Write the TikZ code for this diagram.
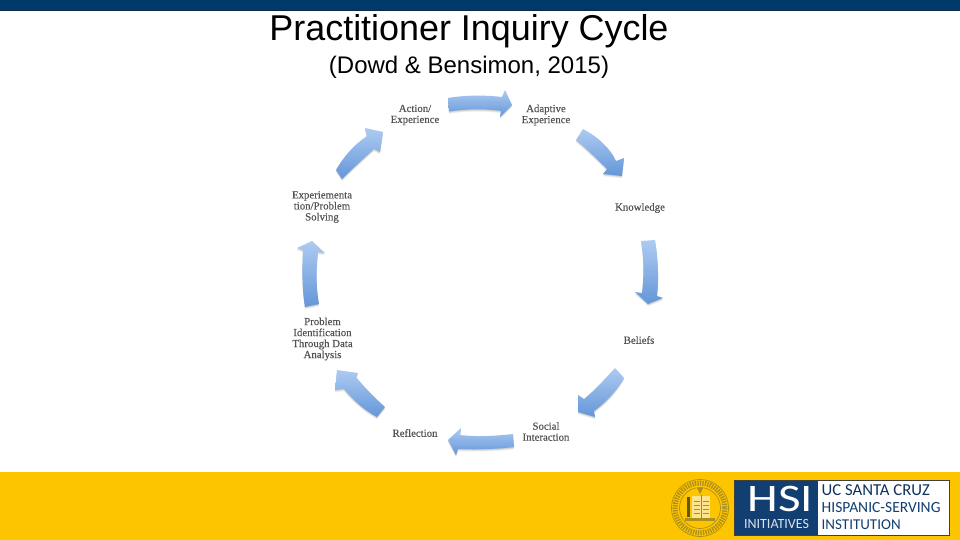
\documentclass[tikz,border=0pt]{standalone}
\usepackage{fontspec}
\setmainfont{Liberation Sans}
\newfontfamily\lblfont[FakeBold=0.25]{Liberation Serif}
\newfontfamily\logofont{Carlito}
\definecolor{navy}{HTML}{003A6B}
\definecolor{navydark}{HTML}{0B2C45}
\definecolor{gold}{HTML}{FDC400}
\definecolor{seal}{HTML}{8A7A2A}
\definecolor{logonavy}{HTML}{123F72}
\definecolor{arrowlight}{HTML}{ADCBF2}
\definecolor{arrowdark}{HTML}{6496D8}
\newcommand{\blockarrow}[1]{%
  \foreach \dd in {0.6,1.4,2.2}{\fill[black,opacity=0.07,yshift=-\dd pt] #1;}
  \shade[top color=arrowlight,bottom color=arrowdark] #1;}
\tikzset{
  lbl/.style={font=\lblfont\fontsize{10.8}{11}\selectfont,text=black!68,align=center,inner sep=0pt},
  logotxt/.style={font=\logofont\fontsize{#1}{#1}\selectfont,inner sep=0pt,anchor=west},
}
\begin{document}
\begin{tikzpicture}[x=1pt,y=-1pt]
\useasboundingbox (0,0) rectangle (960,540);
\fill[white] (0,0) rectangle (960,540);
\fill[navy] (0,0) rectangle (960,10);
\fill[navydark] (0,10) rectangle (960,11);
\fill[gold] (0,472) rectangle (960,540);
% titles
\node[font=\fontsize{35.9}{38}\selectfont,inner sep=0pt] (title) at (469,31) {Practitioner Inquiry Cycle};
\node[font=\fontsize{24}{26}\selectfont,inner sep=0pt] (sub) at (469,67) {(Dowd \& Bensimon, 2015)};
% labels
\node[lbl] (action) at (415,115) {Action/\\Experience};
\node[lbl] (adaptive) at (546,115) {Adaptive\\Experience};
\node[lbl] (know) at (640,208) {Knowledge};
\node[lbl] (beliefs) at (639,340) {Beliefs};
\node[lbl] (social) at (546,431.5) {Social\\Interaction};
\node[lbl] (reflect) at (415,433) {Reflection};
\node[lbl] (prob) at (322.5,339) {Problem\\Identification\\Through Data\\Analysis};
\node[lbl] (exper) at (322,207) {Experiementa\\tion/Problem\\Solving};
% block arrows
\blockarrow{(448,98) .. controls (465,95) and (485,95) .. (502,97) -- (505,90) -- (512,105) -- (500,117) -- (501,111) .. controls (485,108.5) and (465,109) .. (449,111.5) -- cycle}
\blockarrow{(583,129) .. controls (598,137) and (610,148) .. (616,161) -- (624,158) -- (622,176) -- (603,174) -- (607,169) .. controls (598,160) and (588,150) .. (576,140) -- cycle}
\blockarrow{(641,241) -- (655,240) .. controls (658,258) and (659,278) .. (657,296) -- (663,298) -- (648,304) -- (635,292) -- (642,293) .. controls (644,276) and (644,258) .. (641,241) -- cycle}
\blockarrow{(615,368) -- (624,378) .. controls (615,393) and (605,403) .. (594,411) -- (595,417) -- (578,412) -- (578,395) -- (584,399) .. controls (595,390) and (605,379) .. (615,368) -- cycle}
\blockarrow{(513,434) -- (514,447) .. controls (495,449.5) and (475,449.5) .. (458,449) -- (456,455) -- (448,440) -- (461,428) -- (460,435) .. controls (477,437) and (495,436) .. (513,434) -- cycle}
\blockarrow{(385,407) -- (377,417) .. controls (364,410) and (353,400) .. (344,389) -- (335,390) -- (337,370) -- (358,373) -- (356,377) .. controls (365,388) and (375,398) .. (385,407) -- cycle}
\blockarrow{(305,307) -- (319,304) .. controls (316,287) and (316,270) .. (318,252) -- (325,253) -- (312,241) -- (297,248) -- (303,250) .. controls (302,270) and (302,289) .. (305,307) -- cycle}
\blockarrow{(336,170) -- (342,179) .. controls (352,169) and (363,159) .. (374,149) -- (380,152) -- (383,132) -- (365,128) -- (367,136) .. controls (354,145) and (344,156) .. (336,170) -- cycle}
% seal
\draw[seal!70!gold,line width=0.7pt] (700,508) circle (28.5);
\draw[seal!70!gold,line width=5pt,dash pattern=on 1.3pt off 1.2pt] (700,508) circle (25);
\draw[seal!80!gold,line width=0.6pt] (700,508) circle (20.5);
\fill[white!55!gold] (692,496) rectangle (710,518);
\draw[seal!80!gold,line width=0.5pt] (701,495) -- (701,519);
\fill[seal!70!black] (687,497) rectangle (690,517);
\fill[seal!70!gold] (685,518) rectangle (715,521);
\fill[seal!70!gold] (697,488) -- (700,494) -- (703,488) -- cycle;
\foreach \yy in {501,505,509,513}{\draw[seal!70!gold,line width=0.4pt] (694,\yy) -- (699.5,\yy) (703,\yy) -- (708.5,\yy);}
% logo
\fill[black!75] (734,479.5) rectangle (950,536);
\fill[logonavy] (735,480.5) rectangle (818,535);
\fill[white] (818,480.5) rectangle (949,535);
\node[logotxt=39,text=white,anchor=base,xscale=1.26,text height=25pt,text depth=0pt] (hsi) at (780.5,511.5) {HSI};
\node[logotxt=14,text=white!85!logonavy,anchor=center] (init) at (776.5,523.5) {INITIATIVES};
\node[logotxt=16.7,text=logonavy!80!black] (ucsc) at (821.5,490) {UC SANTA CRUZ};
\node[logotxt=15.5,text=logonavy] (hsv) at (821.5,507.5) {HISPANIC-SERVING};
\node[logotxt=15,text=logonavy] (inst) at (821.5,524.5) {INSTITUTION};
\end{tikzpicture}
\end{document}
